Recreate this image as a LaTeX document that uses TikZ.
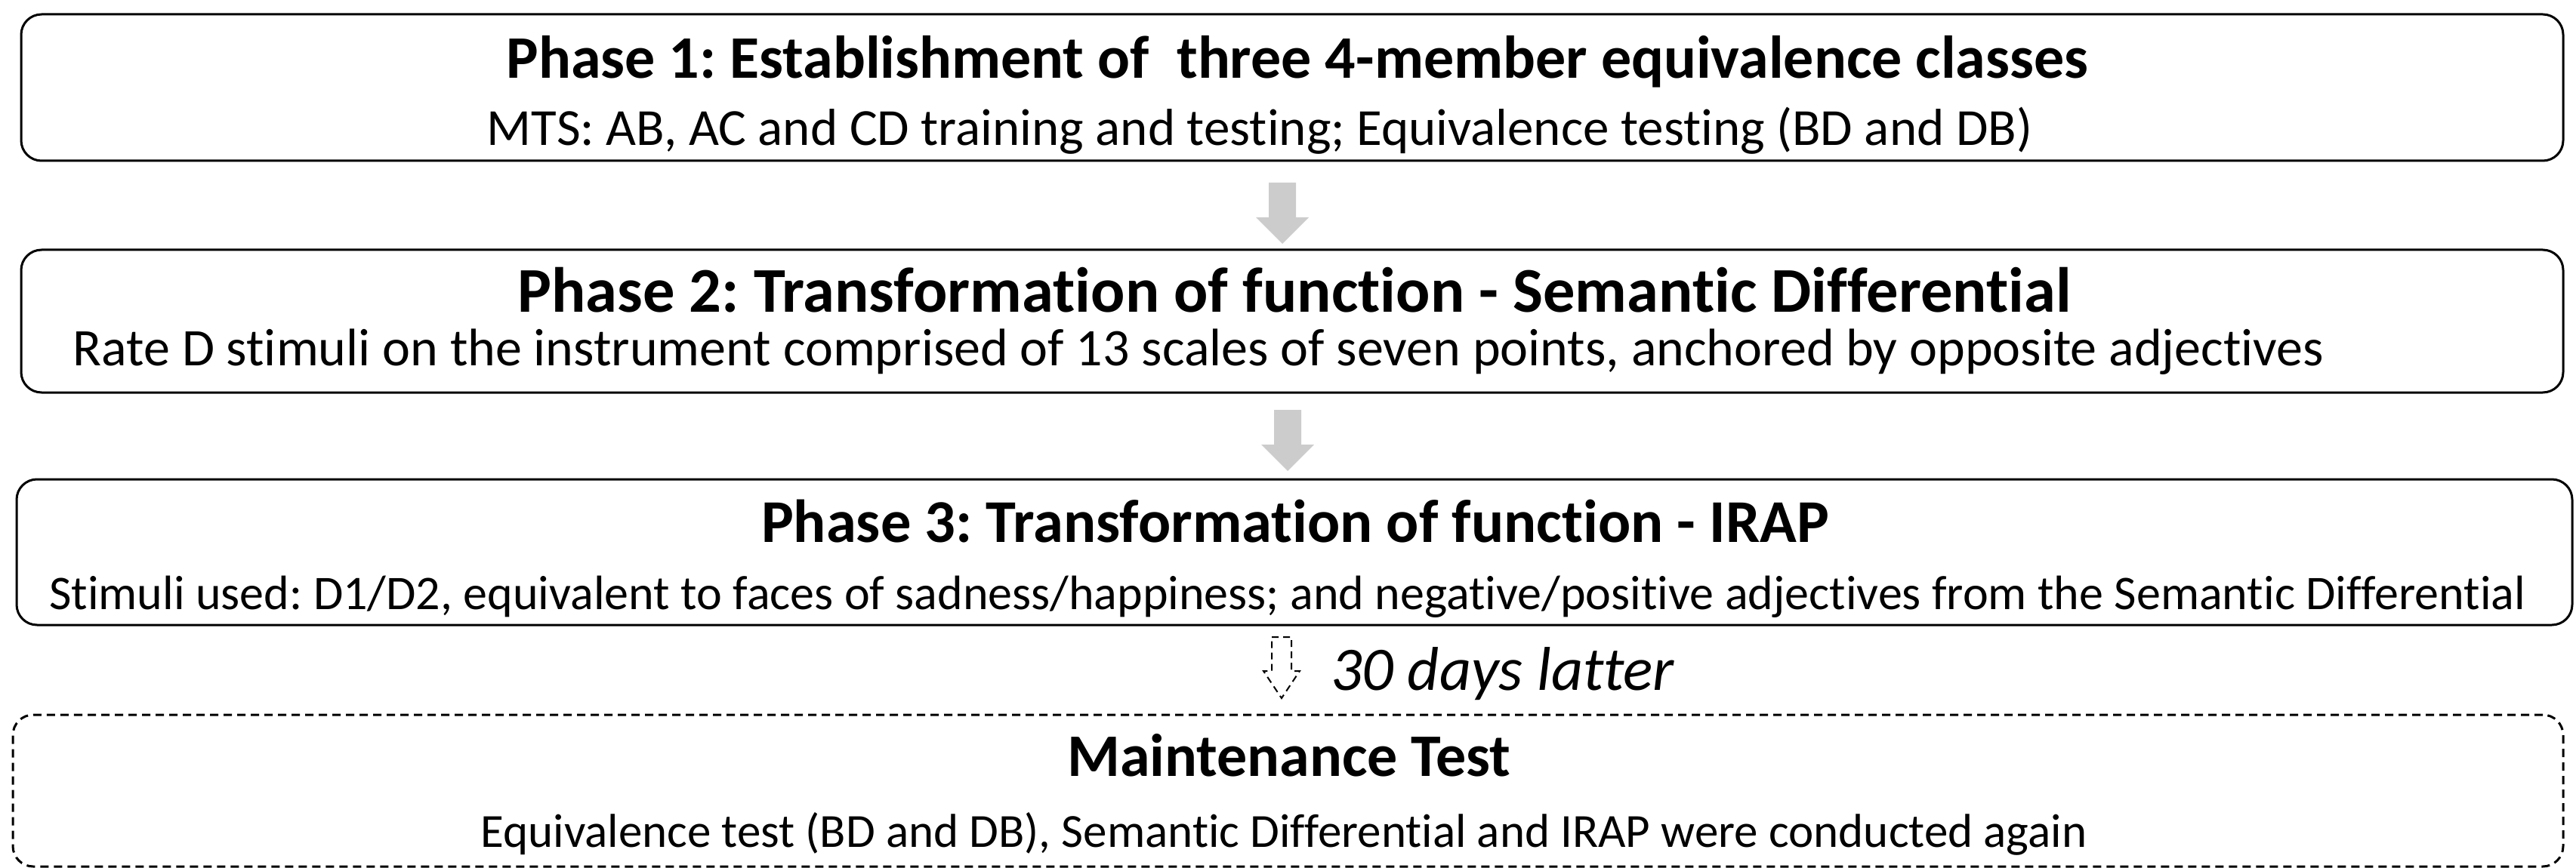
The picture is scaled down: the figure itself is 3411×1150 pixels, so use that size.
\documentclass[tikz,border=0pt]{standalone}
\usepackage{fontspec}
\setmainfont{Carlito}[Ligatures=NoCommon]
\frenchspacing
\begin{document}
\begin{tikzpicture}[x=1pt,y=-1pt,
  phasebox/.style={draw=black, line width=3pt, rounded corners=27pt, rectangle, inner sep=0pt},
  laterbox/.style={phasebox, dashed, dash pattern=on 11pt off 7pt},
  titletext/.style={font=\fontsize{#1}{#1}\selectfont\bfseries, anchor=base, inner sep=0pt},
  titletext/.default=80,
  detailtext/.style={font=\fontsize{#1}{#1}\selectfont, anchor=base, inner sep=0pt},
  detailtext/.default=63,
  notetext/.style={font=\fontsize{82}{98}\selectfont\itshape, anchor=base west, inner sep=0pt},
  blockarrow/.style={fill=black!20, draw=none},
  pics/downarrow/.style={code={
    \fill[blockarrow] (-18,0) -- (18,0) -- (18,46) -- (35,46) -- (0,81)
      -- (-35,46) -- (-18,46) -- cycle;}},
  pics/laterarrow/.style={code={
    \draw[black, line width=2pt, dash pattern=on 9pt off 6pt]
      (-13,0) -- (13,0) -- (13,45) -- (24,45) -- (0,81)
      -- (-24,45) -- (-13,45) -- cycle;}}
]
\useasboundingbox (0,0) rectangle (3411,1150);

% phase boxes
\node[phasebox, minimum width=3366pt, minimum height=194pt] (box1) at (1711,116) {};
\node[phasebox, minimum width=3366pt, minimum height=189pt] (box2) at (1711,425.5) {};
\node[phasebox, minimum width=3384pt, minimum height=193pt] (box3) at (1714,731.5) {};
\node[laterbox, minimum width=3377pt, minimum height=201pt] (box4) at (1705.5,1047.5) {};

% texts of the boxes
\node[titletext] (t1) at (1718,104) {Phase 1: Establishment of\ \ three 4-member equivalence classes};
\node[detailtext=69] (d1) at (1668,193) {MTS: AB, AC and CD training and testing; Equivalence testing (BD and DB)};

\node[titletext=84.5] (t2) at (1714,413) {Phase 2: Transformation of function - Semantic Differential};
\node[detailtext=70] (d2) at (1587,484) {Rate D stimuli on the instrument comprised of 13 scales of seven points, anchored by opposite adjectives};

\node[titletext=80.5] (t3) at (1715,718) {Phase 3: Transformation of function - IRAP};
\node[detailtext=64] (d3) at (1705,807) {Stimuli used: D1/D2, equivalent to faces of sadness/happiness; and negative/positive adjectives from the Semantic Differential};

\node[titletext] (t4) at (1707,1028) {Maintenance Test};
\node[detailtext=63] (d4) at (1700,1122) {Equivalence test (BD and DB), Semantic Differential and IRAP were conducted again};

% arrows between the phases
\pic at (1698,242) {downarrow};
\pic at (1705,543) {downarrow};
\pic at (1697,844) {laterarrow};
\node[notetext] (later) at (1762,914) {30 days latter};
\end{tikzpicture}
\end{document}
